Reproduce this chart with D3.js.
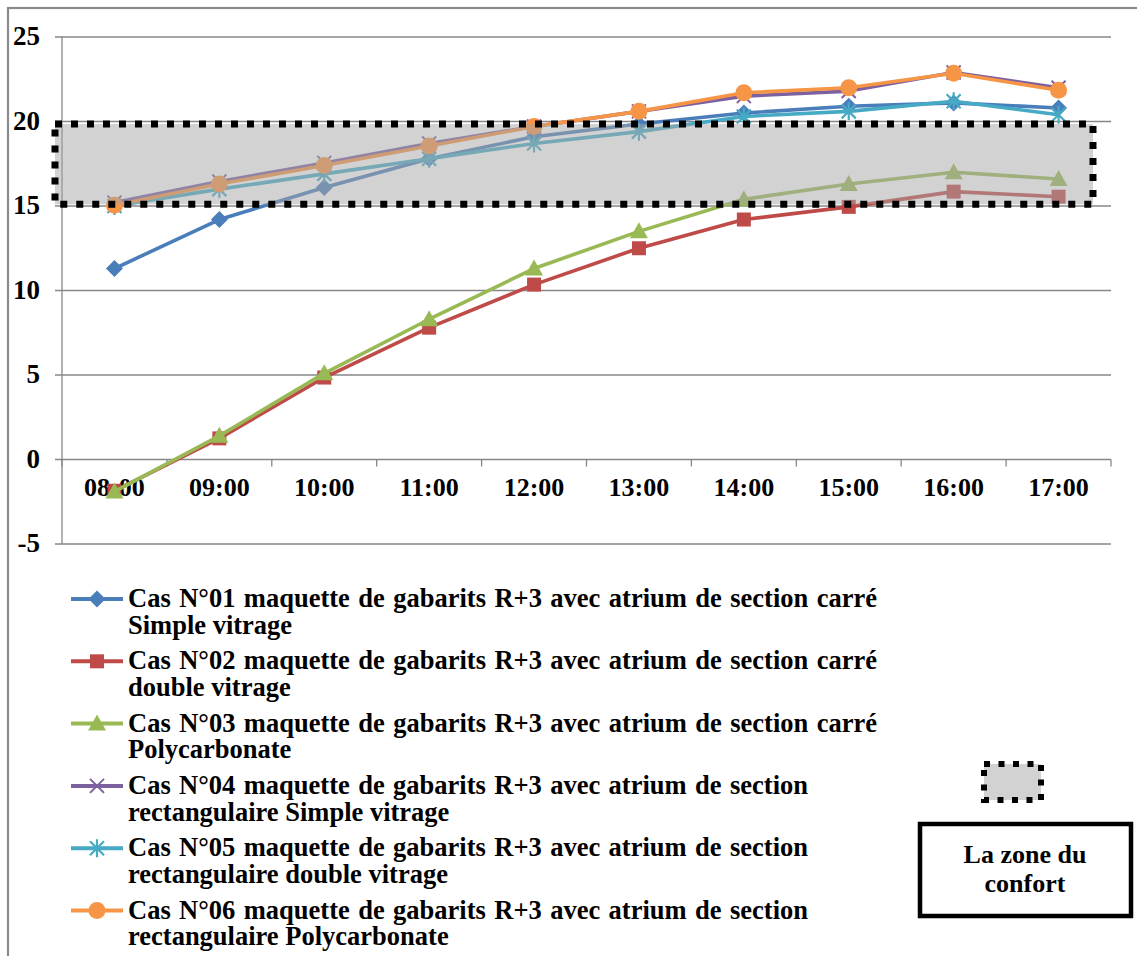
<!DOCTYPE html>
<html><head><meta charset="utf-8">
<script src="https://cdn.jsdelivr.net/npm/d3@7"></script>
<style>
html,body{margin:0;padding:0;background:#fff;}
svg{display:block;}
</style></head>
<body>
<svg id="chart" width="1137" height="956"></svg>
<script>
// ---------- DATA ----------
const categories = ["08:00","09:00","10:00","11:00","12:00","13:00","14:00","15:00","16:00","17:00"];
const cas01 = [11.3, 14.2, 16.1, 17.8, 19.1, 19.85, 20.5, 20.9, 21.1, 20.8];
const cas02 = [-1.85, 1.25, 4.85, 7.8, 10.35, 12.5, 14.2, 14.95, 15.85, 15.55];
const cas03 = [-1.9, 1.4, 5.1, 8.3, 11.3, 13.5, 15.4, 16.3, 17.0, 16.6];
const cas04 = [15.2, 16.45, 17.55, 18.7, 19.7, 20.6, 21.5, 21.8, 22.9, 22.0];
const cas05 = [15.0, 16.0, 16.9, 17.8, 18.7, 19.4, 20.3, 20.6, 21.2, 20.4];
const cas06 = [15.05, 16.3, 17.4, 18.55, 19.7, 20.6, 21.7, 22.0, 22.85, 21.85];
const yTicks = [-5, 0, 5, 10, 15, 20, 25];
const comfortZone = [15.1, 19.85];
const seriesNames = [
  ["Cas N°01 maquette de gabarits R+3 avec atrium de section carré", "Simple vitrage"],
  ["Cas N°02 maquette de gabarits R+3 avec atrium de section carré", "double vitrage"],
  ["Cas N°03 maquette de gabarits R+3 avec atrium de section carré", "Polycarbonate"],
  ["Cas N°04 maquette de gabarits R+3 avec atrium de section", "rectangulaire Simple vitrage"],
  ["Cas N°05 maquette de gabarits R+3 avec atrium de section", "rectangulaire double vitrage"],
  ["Cas N°06 maquette de gabarits R+3 avec atrium de section", "rectangulaire Polycarbonate"]
];
const comfortLabel = ["La zone du", "confort"];

// ---------- STYLE ----------
const FONT = "Liberation Serif";
const colors = ["#4A7EBB","#BE4B48","#98B954","#7D60A0","#46AAC5","#F69546"];
const markerTypes = ["diamond","square","triangle","x","star","circle"];
const seriesValues = [cas01, cas02, cas03, cas04, cas05, cas06];

const svg = d3.select("#chart");
const x = d3.scaleBand().domain(categories).range([62, 1111]).padding(0);
const y = d3.scaleLinear().domain([-5, 25]).range([544, 37]);
const cx = c => x(c) + x.bandwidth() / 2;
const gridColor = "#878787";

function txt(sel, size) {
  return sel.attr("font-family", FONT).attr("font-weight", "bold").attr("fill", "#000").attr("font-size", size || 26);
}

// outer chart border
svg.append("rect").attr("x", 8).attr("y", 8).attr("width", 1300).attr("height", 1200)
  .attr("fill", "none").attr("stroke", "#8a8a8a").attr("stroke-width", 2.2);

// gridlines
svg.append("g").selectAll("line").data(yTicks).join("line")
  .attr("x1", 55).attr("x2", 1111)
  .attr("y1", d => y(d)).attr("y2", d => y(d))
  .attr("stroke", gridColor).attr("stroke-width", 1.3);

// y axis line
svg.append("line").attr("x1", 62).attr("x2", 62).attr("y1", y(25)).attr("y2", y(-5))
  .attr("stroke", gridColor).attr("stroke-width", 1.3);

// x axis (at 0) ticks between categories
const bounds = categories.map(c => x(c)).concat([x(categories[categories.length-1]) + x.bandwidth()]);
svg.append("g").selectAll("line").data(bounds).join("line")
  .attr("x1", d => d).attr("x2", d => d)
  .attr("y1", y(0)).attr("y2", y(0) + 7)
  .attr("stroke", gridColor).attr("stroke-width", 1.3);

// y tick labels
txt(svg.append("g").selectAll("text").data(yTicks).join("text")
  .attr("x", 40).attr("y", d => y(d) + 8)
  .attr("text-anchor", "end"), 27)
  .text(d => d);

// x tick labels
txt(svg.append("g").selectAll("text").data(categories).join("text")
  .attr("x", d => cx(d)).attr("y", 496)
  .attr("text-anchor", "middle"))
  .text(d => d);

// marker drawing
function drawMarker(g, type, color) {
  if (type === "diamond") {
    g.append("path").attr("d", "M0,-8.5L8.5,0L0,8.5L-8.5,0Z").attr("fill", color);
  } else if (type === "square") {
    g.append("rect").attr("x", -7).attr("y", -7).attr("width", 14).attr("height", 14).attr("fill", color);
  } else if (type === "triangle") {
    g.append("path").attr("d", "M0,-9L9,7L-9,7Z").attr("fill", color);
  } else if (type === "circle") {
    g.append("circle").attr("r", 8.5).attr("fill", color);
  } else if (type === "x") {
    g.append("path").attr("d", "M-7,-7L7,7M-7,7L7,-7").attr("stroke", color).attr("stroke-width", 2).attr("fill", "none");
  } else if (type === "star") {
    g.append("path").attr("d", "M-7,-7L7,7M-7,7L7,-7M0,-9L0,9").attr("stroke", color).attr("stroke-width", 2.2).attr("fill", "none");
  }
}

// series
const line = d3.line().x((d, i) => cx(categories[i])).y(d => y(d));
seriesValues.forEach((vals, si) => {
  const g = svg.append("g");
  g.append("path").datum(vals).attr("d", line)
    .attr("fill", "none").attr("stroke", colors[si]).attr("stroke-width", 3.6)
    .attr("stroke-linejoin", "round");
  vals.forEach((v, i) => {
    const mg = g.append("g").attr("transform", `translate(${cx(categories[i])},${y(v)})`);
    drawMarker(mg, markerTypes[si], colors[si]);
  });
});

// comfort zone overlay
const zx0 = 55, zx1 = 1093;
svg.append("rect").attr("x", zx0).attr("y", y(comfortZone[1]))
  .attr("width", zx1 - zx0).attr("height", y(comfortZone[0]) - y(comfortZone[1]))
  .attr("fill", "#a6a6a6").attr("fill-opacity", 0.5)
  .attr("stroke", "#000").attr("stroke-width", 7).attr("stroke-dasharray", "7 9");

// legend
const legX0 = 71, legX1 = 123, legTextX = 128;
const legY0 = 599, legStep = 62.3, lineGap = 26.6;
seriesNames.forEach((lines, si) => {
  const ly = legY0 + si * legStep;
  const g = svg.append("g");
  g.append("line").attr("x1", legX0).attr("x2", legX1).attr("y1", ly).attr("y2", ly)
    .attr("stroke", colors[si]).attr("stroke-width", 4);
  const mg = g.append("g").attr("transform", `translate(${(legX0 + legX1) / 2},${ly})`);
  drawMarker(mg, markerTypes[si], colors[si]);
  const t1 = txt(g.append("text").attr("x", legTextX).attr("y", ly + 8), 26.5).text(lines[0]);
  const target = si < 3 ? 749 : 680;
  const w = t1.node().getComputedTextLength();
  const spaces = (lines[0].match(/ /g) || []).length;
  if (w < target && spaces > 0) t1.attr("word-spacing", (target - w) / spaces);
  txt(g.append("text").attr("x", legTextX).attr("y", ly + 8 + lineGap), 26.5).text(lines[1]);
});

// comfort legend
svg.append("rect").attr("x", 984).attr("y", 764).attr("width", 57).attr("height", 36)
  .attr("fill", "#a6a6a6").attr("fill-opacity", 0.5)
  .attr("stroke", "#000").attr("stroke-width", 6).attr("stroke-dasharray", "6 8.5");
svg.append("rect").attr("x", 920).attr("y", 824).attr("width", 211).attr("height", 92)
  .attr("fill", "#fff").attr("stroke", "#000").attr("stroke-width", 4.5);
txt(svg.append("g").selectAll("text").data(comfortLabel).join("text")
  .attr("x", 1025).attr("y", (d, i) => 863 + i * 29)
  .attr("text-anchor", "middle"))
  .text(d => d);
</script>
</body></html>
